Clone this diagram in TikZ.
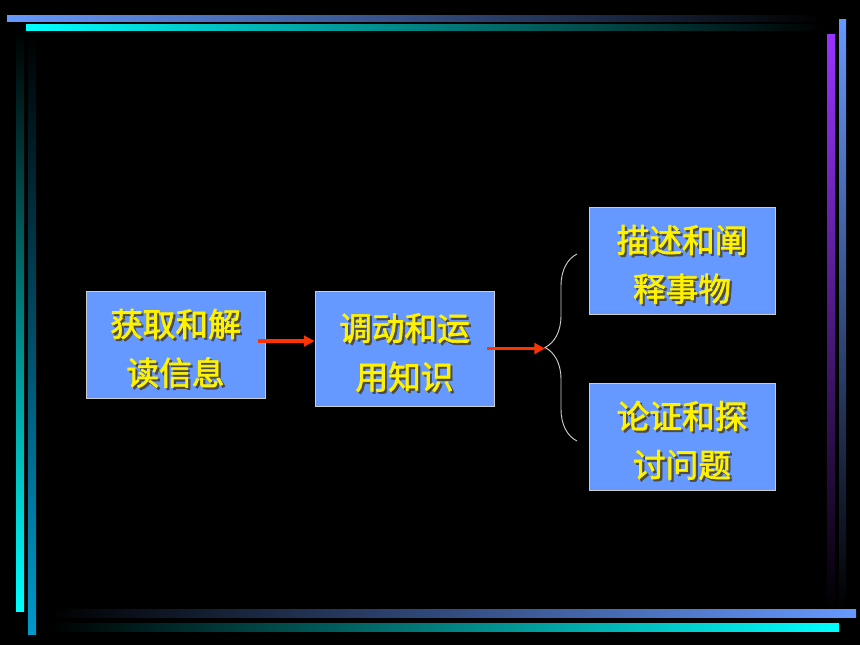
\documentclass[tikz,border=0pt]{standalone}
\usepackage{fontspec}
\newfontfamily\cjk{Noto Sans CJK SC}[FakeBold=2]
\usepackage{tikz}
\usetikzlibrary{calc,positioning,arrows.meta,decorations.pathreplacing}
\definecolor{periwinkle}{HTML}{6699FF}
\definecolor{tealbar}{HTML}{0099CC}
\definecolor{violetbar}{HTML}{9933FF}
\definecolor{flowred}{HTML}{FF3300}
\newcommand{\shtext}[1]{\makebox[0pt][l]{\hspace{1.6pt}\raisebox{-1.6pt}{\color{black!70}#1}}{\color{yellow}#1}}
\newcommand{\toppad}{\rule{0pt}{28pt}}
\tikzset{
    stepbox/.style={
      rectangle,
      fill=periwinkle,
      draw=black!20, line width=0.6pt,
      align=center,
      inner sep=0pt,
      font=\cjk\fontsize{24.5}{36.5}\selectfont},
    flow/.style={draw=flowred, line width=2.4pt, -{Triangle[length=8pt,width=8pt]}},
    bar/.style={draw=none},
    tuborg/.style={draw=black!20, line width=0.7pt, decorate,
      decoration={brace, amplitude=24pt}},
}

\begin{document}
\begin{tikzpicture}[x=0.75pt,y=-0.75pt]
      \fill[black] (0,0) rectangle (860,645);
      % frame bars
      \shade[bar, left color=periwinkle, right color=black] (7,16) rectangle (823,22);
      \shade[bar, left color=cyan, right color=black] (26,25) rectangle (823,31);
      \shade[bar, top color=black, bottom color=cyan] (16,29) rectangle (24,611);
      \shade[bar, top color=black, bottom color=tealbar] (28,33) rectangle (36,634);
      \shade[bar, top color=violetbar, bottom color=black] (827,35) rectangle (835,609);
      \shade[bar, top color=periwinkle, bottom color=black] (839,20) rectangle (846,609);
      \shade[bar, left color=black, right color=periwinkle] (48,609) rectangle (856,617);
      \shade[bar, left color=black, right color=cyan] (48,623) rectangle (839,631);
      % boxes
      \node[stepbox, minimum width=134.25pt, minimum height=80.25pt] (acquire) at (175.5,344.5) {\toppad\shtext{获取和解}\\\shtext{读信息}};
      \node[stepbox, minimum width=134.25pt, minimum height=86.25pt] (mobilize) at (404.5,348.5) {\toppad\shtext{调动和运}\\\shtext{用知识}};
      \node[stepbox, minimum width=139.5pt, minimum height=80.25pt] (describe) at (682,260.5) {\toppad\shtext{描述和阐}\\\shtext{释事物}};
      \node[stepbox, minimum width=139.5pt, minimum height=80.25pt] (argue) at (682,436.5) {\toppad\shtext{论证和探}\\\shtext{讨问题}};
      \coordinate (braceTop) at (577,254);
      \coordinate (braceBot) at (577,441);
      \coordinate (braceTip) at (545,348.5);
      \draw[tuborg] (braceBot) -- (braceTop);
      \draw[flow] ([xshift=-5.25pt,yshift=2.6pt]acquire.east) -- ([yshift=2.6pt]acquire.east -| mobilize.west);
      \draw[flow] ([xshift=-5.25pt]mobilize.east) -- (braceTip);
\end{tikzpicture}
\end{document}
